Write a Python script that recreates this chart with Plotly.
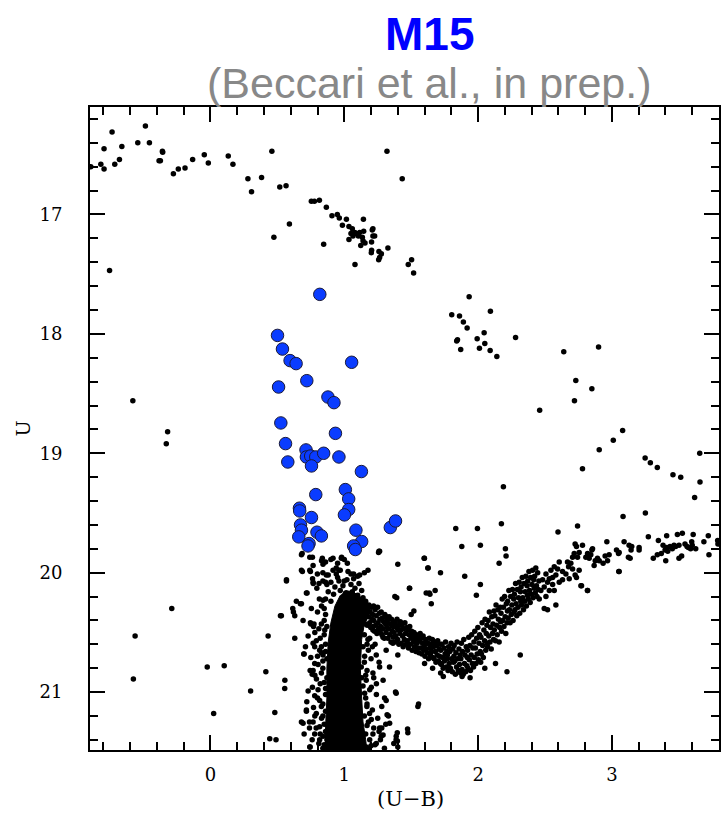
import plotly.graph_objects as go

# ---------------- data ----------------
# bright sparse stars: HB / AGB / upper RGB
bright = [(-0.894,16.60),(-0.819,16.58),(-0.795,16.62),(-0.795,16.45),(-0.735,16.31),(-0.754,17.47),
(-0.715,16.58),(-0.680,16.54),(-0.662,16.43),(-0.543,16.40),(-0.486,16.26),(-0.456,16.40),(-0.384,16.55),
(-0.374,16.55),(-0.359,16.47),(-0.357,16.48),(-0.277,16.66),(-0.240,16.62),(-0.190,16.61),(-0.133,16.54),
(-0.046,16.50),(-0.016,16.57),(0.133,16.51),(0.168,16.58),(0.280,16.70),(0.307,16.81),(0.382,16.69),
(0.459,16.47),(0.474,17.19),(0.518,16.77),(0.565,16.76),(0.590,17.08),(0.754,16.89),(0.777,16.89),
(0.814,16.88),(0.866,16.94),(0.846,17.25),(0.908,17.01),(0.948,17.00),(0.963,17.03),(1.016,17.04),
(0.986,17.09),(1.035,17.10),(1.060,17.12),(1.078,17.15),(1.050,17.16),(1.090,17.16),(1.115,17.15),
(1.145,17.14),(1.135,17.19),(1.105,17.18),(1.140,17.22),(1.065,17.18),(1.035,17.21),(1.155,17.24),
(1.123,17.26),(1.214,17.12),(1.209,17.13),(1.214,17.18),(1.204,17.23),(1.204,17.30),(1.202,17.32),
(1.227,17.18),(1.259,17.31),(1.277,17.33),(1.264,17.36),(1.257,17.38),(1.326,17.28),(1.080,17.42),
(1.319,16.47),(1.433,16.70),(1.143,17.04),(1.503,17.38),(1.478,17.42),(1.518,17.49),
(1.933,17.69),(1.803,17.84),(1.861,17.85),(1.890,17.90),(1.918,17.95),(2.092,17.81),(2.045,17.99),
(1.993,18.04),(1.840,18.06),(1.846,18.05)]

# sparse stars between the giant branches
middle = [(1.87,18.13),(2.01,18.12),(2.05,18.08),(2.09,18.14),(2.14,18.19),(2.28,18.03),(2.46,18.64),
(2.64,18.15),(2.73,18.39),(2.85,18.46),(2.90,18.11),(2.72,18.56),(3.01,18.89),(3.08,18.81),(2.905,18.97),
(2.78,19.13),(3.248,19.04),(3.287,19.08),(3.339,19.12),(3.456,19.18),(3.514,19.20),(3.656,19.00),
(3.658,19.24),(3.618,19.37),(2.189,19.28),(-0.58,18.56),(-0.32,18.82),(-0.33,18.92),
(1.833,19.63),(1.995,19.63),(2.174,19.59),(2.597,19.66),(2.743,19.61),(3.083,19.53),(3.250,19.50),
(1.878,19.78),(2.017,19.77),(2.204,19.80),(2.209,19.86),(2.157,19.92),(1.597,19.88),(1.627,19.96),
(1.719,20.00),(1.900,20.03),(1.400,19.93),(1.264,19.82),(2.017,20.10),(1.987,20.19),(1.488,20.13),
(1.635,20.17),(1.640,20.18),(1.650,20.26),(1.679,20.15),(1.378,20.20),(1.392,20.21),(1.520,20.32),
(1.500,20.35),(2.773,20.11),(2.817,20.15),(3.051,19.99),(3.725,19.85),(3.79,19.73),(2.216,20.83),
(2.315,20.69),(1.555,21.10),(1.383,21.00),(1.301,21.05),(1.473,21.31),(1.396,21.34),(1.387,21.40),
(1.397,21.41),(1.320,21.19),(1.330,21.20),(1.339,21.26),(1.28,21.30),(1.29,21.36),
(1.72,20.84),(1.74,20.87),(1.88,20.87),(1.94,20.88),(2.13,20.76),(2.05,20.80),(1.66,20.80),(1.60,20.76)]

# subgiant branch and lower red giant branch
sgb = [(1.122,20.36),(1.126,20.26),(1.131,20.41),(1.137,20.30),(1.141,20.35),(1.146,20.24),(1.150,20.39),
(1.155,20.31),(1.160,20.43),(1.163,20.27),(1.168,20.34),
(1.171,20.44),(1.175,20.30),(1.180,20.37),(1.184,20.27),(1.190,20.42),(1.193,20.33),(1.198,20.46),
(1.203,20.29),(1.207,20.39),(1.212,20.35),(1.216,20.45),(1.219,20.28),
(1.221,20.40),(1.226,20.49),(1.230,20.31),(1.235,20.44),(1.239,20.36),(1.244,20.51),(1.249,20.29),
(1.253,20.42),(1.257,20.47),(1.262,20.34),(1.266,20.39),(1.269,20.50),
(1.272,20.45),(1.276,20.33),(1.281,20.52),(1.285,20.38),(1.290,20.47),(1.294,20.41),(1.299,20.55),
(1.303,20.35),(1.308,20.43),(1.312,20.50),(1.316,20.37),(1.319,20.46),
(1.322,20.40),(1.326,20.55),(1.331,20.47),(1.335,20.37),(1.340,20.52),(1.344,20.43),(1.349,20.58),
(1.353,20.39),(1.358,20.49),(1.362,20.45),(1.366,20.54),(1.369,20.41),
(1.372,20.50),(1.376,20.58),(1.381,20.42),(1.385,20.53),(1.390,20.46),(1.394,20.39),(1.399,20.56),
(1.403,20.48),(1.408,20.60),(1.412,20.44),(1.416,20.51),(1.419,20.41),
(1.422,20.48),(1.426,20.59),(1.431,20.44),(1.435,20.53),(1.440,20.62),(1.444,20.47),(1.449,20.56),
(1.453,20.42),(1.458,20.51),(1.462,20.60),(1.467,20.46),
(1.471,20.57),(1.475,20.48),(1.480,20.63),(1.484,20.52),(1.489,20.45),(1.494,20.60),(1.498,20.55),
(1.503,20.49),(1.507,20.65),(1.512,20.53),(1.517,20.58),
(1.521,20.50),(1.525,20.62),(1.530,20.56),(1.535,20.66),(1.539,20.52),(1.544,20.59),(1.548,20.63),
(1.553,20.54),(1.558,20.67),(1.562,20.57),(1.567,20.51),
(1.571,20.63),(1.575,20.55),(1.580,20.68),(1.585,20.59),(1.589,20.53),(1.594,20.65),(1.598,20.61),
(1.603,20.70),(1.608,20.56),(1.612,20.64),(1.617,20.59),
(1.621,20.67),(1.626,20.59),(1.630,20.72),(1.635,20.55),(1.639,20.63),(1.644,20.69),(1.648,20.60),
(1.653,20.66),(1.658,20.56),(1.662,20.71),(1.667,20.62),
(1.671,20.72),(1.675,20.58),(1.680,20.66),(1.685,20.75),(1.689,20.61),(1.694,20.69),(1.698,20.57),
(1.703,20.74),(1.708,20.64),(1.712,20.70),(1.717,20.60),(1.719,20.76),
(1.721,20.65),(1.726,20.77),(1.730,20.60),(1.735,20.71),(1.739,20.80),(1.744,20.63),(1.748,20.74),
(1.753,20.68),(1.757,20.58),(1.762,20.79),(1.766,20.66),(1.769,20.72),
(1.771,20.69),(1.775,20.82),(1.780,20.62),(1.784,20.76),(1.789,20.66),(1.793,20.80),(1.798,20.59),
(1.802,20.72),(1.807,20.83),(1.811,20.64),(1.816,20.75),(1.819,20.70),
(1.821,20.61),(1.825,20.74),(1.830,20.85),(1.834,20.67),(1.839,20.79),(1.843,20.58),(1.848,20.72),
(1.852,20.82),(1.857,20.64),(1.861,20.77),(1.866,20.69),(1.869,20.84),
(1.871,20.72),(1.875,20.59),(1.880,20.81),(1.884,20.66),(1.889,20.85),(1.893,20.56),(1.898,20.76),
(1.902,20.69),(1.907,20.83),(1.911,20.62),(1.916,20.78),(1.919,20.71),
(1.921,20.65),(1.925,20.80),(1.930,20.54),(1.934,20.73),(1.939,20.61),(1.943,20.82),(1.948,20.69),
(1.952,20.52),(1.957,20.76),(1.961,20.63),(1.966,20.79),(1.969,20.58),
(1.971,20.71),(1.975,20.49),(1.980,20.63),(1.984,20.76),(1.989,20.55),(1.993,20.68),(1.998,20.46),
(2.002,20.73),(2.007,20.59),(2.011,20.52),(2.016,20.66),(2.019,20.75),
(2.021,20.54),(2.025,20.68),(2.030,20.42),(2.034,20.61),(2.039,20.71),(2.043,20.48),(2.048,20.57),
(2.052,20.39),(2.057,20.65),(2.061,20.51),(2.066,20.44),(2.069,20.59),
(2.071,20.62),(2.075,20.40),(2.080,20.53),(2.084,20.33),(2.089,20.58),(2.093,20.46),(2.098,20.64),
(2.102,20.37),(2.107,20.51),(2.111,20.43),(2.116,20.56),(2.119,20.32),
(2.121,20.48),(2.125,20.36),(2.130,20.57),(2.134,20.27),(2.139,20.44),(2.143,20.52),(2.148,20.31),
(2.152,20.39),(2.157,20.58),(2.161,20.46),(2.166,20.29),(2.169,20.41),
(2.171,20.34),(2.175,20.49),(2.180,20.22),(2.184,20.40),(2.189,20.29),(2.193,20.45),(2.198,20.20),
(2.202,20.37),(2.207,20.51),(2.211,20.26),(2.216,20.42),(2.219,20.32),
(2.221,20.24),(2.225,20.38),(2.230,20.15),(2.234,20.31),(2.239,20.42),(2.243,20.20),(2.248,20.35),
(2.252,20.27),(2.257,20.14),(2.261,20.40),(2.266,20.22),(2.269,20.33),
(2.271,20.18),(2.275,20.31),(2.280,20.09),(2.284,20.26),(2.289,20.36),(2.293,20.14),(2.298,20.29),
(2.302,20.21),(2.307,20.08),(2.311,20.34),(2.316,20.16),(2.319,20.24),
(2.321,20.12),(2.325,20.27),(2.330,20.04),(2.334,20.21),(2.339,20.31),(2.343,20.09),(2.348,20.24),
(2.352,20.16),(2.357,20.03),(2.361,20.28),(2.366,20.11),(2.369,20.19),
(2.371,20.07),(2.375,20.22),(2.380,19.99),(2.384,20.15),(2.389,20.25),(2.393,20.04),(2.398,20.18),
(2.402,20.10),(2.407,19.98),(2.411,20.21),(2.416,20.06),(2.419,20.13),
(2.422,20.03),(2.427,20.17),(2.431,19.96),(2.436,20.11),(2.440,20.20),(2.445,20.00),(2.449,20.14),
(2.454,20.07)]

# upper part of the red giant branch
rgb = [(2.962,19.74),(3.091,19.74),(3.272,19.70),(3.347,19.73),(3.409,19.69),(3.489,19.68),(3.526,19.67),
(3.607,19.68),(3.720,19.69),(3.687,19.74),(3.792,19.76),(3.382,19.77),(3.409,19.79),(3.434,19.78),
(3.464,19.77),(3.501,19.77),(3.546,19.76),(3.571,19.79),(3.600,19.77),(3.626,19.80),(3.397,19.81),
(3.369,19.84),(3.417,19.82),(3.339,19.85),(3.309,19.88),(3.402,19.90),(3.501,19.88),(3.521,19.86),
(3.596,19.74),(3.588,19.80),(3.561,19.78),(3.451,19.80),(3.476,19.78),
(3.128,19.77),(3.148,19.78),(3.143,19.81),(3.203,19.79),(3.203,19.81),(3.123,19.87),(3.136,19.88),
(3.054,19.83),(3.034,19.81),(3.049,19.84),(3.054,19.99),(2.967,19.90),(2.979,19.85),(2.949,19.86),
(2.905,19.90),(2.934,19.92),(2.875,19.90),(2.892,19.88),(2.867,19.94),(2.830,19.88),(2.842,19.85),
(2.850,19.81),(2.818,19.84),(2.805,19.87),(2.855,19.80),(2.725,19.76),(2.735,19.78),(2.780,19.77),
(2.755,19.83),(2.718,19.84),(2.706,19.87),(2.743,19.87),(2.693,19.92),(2.668,19.91),(2.676,19.95),
(2.706,19.97),(2.755,19.98),(2.725,20.02),(2.735,20.04),(2.681,20.05),(2.768,20.11),(2.818,20.15),
(2.656,20.01),(2.631,19.99),(2.606,19.91),(2.594,19.97),(2.569,19.95),(2.581,20.02),(2.544,19.98),
(2.557,20.04),(2.532,20.05),(2.507,20.01),(2.519,20.08),(2.482,20.06),(2.494,20.12),(2.469,20.15),
(2.532,20.15),(2.569,20.15),(2.507,20.20),(2.581,20.27),(2.494,20.30),(2.519,20.31),(2.457,20.22),
(2.606,20.08),(2.631,20.06),(2.557,20.10)]

# stars scattered around the main sequence and turnoff
ms = [(0.685,19.84),(0.762,19.87),(0.836,19.88),(0.916,19.88),(0.978,19.88),(1.023,19.92),(0.841,19.93),
(0.767,19.94),(0.687,19.99),(0.747,19.99),(0.799,20.01),(0.866,20.02),(0.811,20.09),(0.767,20.08),
(0.916,19.98),(0.960,19.98),(1.028,19.99),(1.070,20.01),(1.115,20.02),(1.177,19.98),(0.568,20.07),
(0.722,20.17),(0.642,20.24),(0.672,20.26),(0.62,20.33),(0.63,20.36),(0.530,20.36),(0.754,20.30),
(0.841,20.23),(0.692,20.40),(0.747,20.42),(0.774,20.43),(0.630,20.55),(0.767,20.59),(0.779,20.62),
(0.697,20.68),(0.829,20.62),(0.841,20.69),(0.804,20.77),(0.767,20.82),(0.792,20.89),(0.762,20.96),
(0.779,21.03),(0.816,21.07),(0.555,20.97),(0.717,21.16),(0.692,21.26),(0.767,21.25),(0.779,21.35),
(0.816,21.40),(0.742,21.46),(1.256,19.83),(1.487,20.13),(1.599,19.88),(1.624,19.96),(1.612,20.17),
(1.388,21.01),(1.313,21.07),(1.550,21.12),(1.475,21.34),(1.388,21.37),(1.264,21.30),(1.276,21.37),
(1.189,21.18),(1.202,20.96),(1.214,20.84),(1.264,20.79),(1.338,20.79),(1.239,20.69),(1.313,20.65),
(1.400,20.69),(1.177,20.56),(1.214,20.48),(1.264,20.47),(1.289,20.54),(1.363,20.59),(0.854,20.48),
(0.829,20.43),(0.791,20.57),(0.816,20.65),(0.779,20.76),(0.829,20.84),(0.804,20.98),(0.829,21.12),
(0.791,21.18),(0.816,21.29),(0.841,21.37),(1.164,20.90),(1.152,21.01),(1.169,21.12),(1.202,21.23),
(1.214,21.35),(1.239,21.43),(1.164,21.46),(1.127,20.79),(1.152,20.70),
(-0.563,20.53),(-0.576,20.89),(-0.289,20.30),(-0.024,20.79),(0.103,20.78),(0.024,21.18),(0.300,20.99),
(0.431,20.53),(0.414,20.83),(0.443,21.39),(0.49,21.40),(0.481,21.17),(0.556,20.90),(0.523,20.36),
(0.568,20.06),(0.615,20.30),(0.700,20.68),(0.680,19.85),(0.680,19.98),(0.742,19.98),(0.742,19.87),
(0.717,20.17),(0.680,20.26),(0.75,20.43),(0.77,20.45),(0.745,20.82),(0.76,20.85),(0.68,21.25),
(0.74,21.25),(0.745,21.46),(0.717,21.15),(0.768,20.09),(0.763,20.05),(0.83,19.90),(0.86,19.91),
(0.90,19.89),(0.95,19.92),(0.795,20.13),(0.814,20.22),(0.84,20.07),(0.86,20.08),(0.84,20.00),
(0.88,20.02),(0.94,19.96),(0.94,20.01),(0.97,19.98),(1.00,19.89),(0.98,19.87),(1.00,20.07),(1.05,20.01),
(1.10,20.03),(1.15,20.00),(1.259,19.82),(1.37,21.43),(1.40,21.46),
(0.87,20.10),(0.90,20.08),(0.93,20.12),(0.96,20.07),(0.99,20.11),(1.02,20.06),(1.05,20.10),(1.08,20.13),
(1.11,20.09),(1.13,20.15),(0.88,20.16),(0.92,20.18),(0.97,20.15),(1.01,20.17),(1.06,20.16),(1.10,20.19),
(1.14,20.21),(0.86,20.22),(0.90,20.24),(1.16,20.24),(0.95,20.04),(1.07,20.05),
(0.86,20.35),(0.85,20.52),(0.86,20.66),(0.84,20.74),(0.85,20.92),(0.86,21.02),(0.84,21.20),(0.86,21.33),
(0.85,21.44),(0.87,20.45),(0.87,20.88),(0.86,21.16),(1.15,20.52),(1.14,20.62),(1.15,20.75),(1.14,20.95),
(1.16,21.05),(1.15,21.20),(1.17,21.28),(1.19,21.40),(1.18,21.47),(1.13,20.88),(1.17,20.60),
(0.83,20.28),(0.80,20.33),(0.85,20.40),(0.78,20.50),(0.82,20.55),(0.86,20.60),(0.80,20.70),(0.84,20.80),
(0.78,20.86),(0.82,20.93),(0.86,20.97),(0.80,21.05),(0.84,21.10),(0.77,21.13),(0.83,21.22),(0.79,21.30),
(0.85,21.27),(0.81,21.43),(0.76,21.40),(0.84,21.47),(0.73,20.99),(0.72,21.08),(0.70,21.35),(0.75,20.71),
(0.73,20.53),(0.71,20.62),(0.85,20.30),(0.83,20.67),(0.87,20.72),(0.81,20.47),(0.87,21.40),(0.82,21.35),
(0.78,21.20),(0.74,21.30),
(1.18,20.65),(1.20,20.72),(1.17,20.82),(1.22,20.88),(1.19,20.98),(1.24,21.02),(1.17,21.10),(1.21,21.15),
(1.25,21.22),(1.18,21.25),(1.22,21.30),(1.27,21.40),(1.16,21.35),(1.20,21.45),(1.30,21.47),(1.23,20.60),
(1.26,20.75),(1.29,20.90),(1.28,21.12),(1.31,21.27),(1.16,20.86),(1.19,20.55),(1.21,20.62),(1.24,20.93),
(1.26,21.33),(1.23,21.44)]

# saturated main-sequence core (outline of the solid black area)
core_x = [1.01,1.06,1.11,1.16,1.18,1.15,1.13,1.12,1.13,1.14,1.16,1.17,0.86,0.86,0.87,0.87,0.88,0.90,0.93,0.97]
core_y = [20.15,20.16,20.19,20.26,20.34,20.43,20.56,20.80,21.05,21.25,21.40,21.50,21.50,21.30,21.05,20.80,20.58,20.42,20.28,20.19]

# blue stragglers
bss_x = [0.817,0.501,0.538,0.595,0.640,1.055,0.509,0.720,0.878,0.923,0.526,0.934,0.561,0.714,0.717,0.749,
         0.787,0.846,0.755,0.578,0.960,1.128,0.787,1.008,1.033,1.033,1.001,0.665,0.667,0.755,0.673,0.680,
         0.660,0.796,0.829,0.737,0.729,1.087,1.130,1.070,1.083,1.344,1.383]
bss_y = [17.669,18.013,18.127,18.224,18.249,18.238,18.445,18.392,18.529,18.576,18.746,18.833,18.919,18.972,
         19.031,19.023,19.031,19.000,19.106,19.073,19.031,19.153,19.346,19.304,19.382,19.471,19.516,19.460,
         19.483,19.538,19.600,19.644,19.700,19.661,19.692,19.756,19.776,19.644,19.739,19.776,19.806,19.622,
         19.567]

x_ticks = [0, 1, 2, 3]
y_ticks = [17, 18, 19, 20, 21]
title_text = "M15"
subtitle_text = "(Beccari et al., in prep.)"
x_label = "(U\u2212B)"
y_label = "U"

# ---------------- figure ----------------
stars = bright + middle + sgb + rgb + ms
sx = [p[0] for p in stars]
sy = [p[1] for p in stars]

fig = go.Figure()
fig.add_trace(go.Scatter(x=core_x, y=core_y, mode="lines", fill="toself", fillcolor="black",
                         line=dict(color="black", width=1), hoverinfo="skip", showlegend=False))
fig.add_trace(go.Scatter(x=sx, y=sy, mode="markers",
                         marker=dict(color="black", size=5.5, line=dict(width=0)), showlegend=False))
fig.add_trace(go.Scatter(x=bss_x, y=bss_y, mode="markers",
                         marker=dict(color="#0a3cff", size=12.5, line=dict(color="#1a1a3a", width=1)),
                         showlegend=False))

tickfont = dict(family="DejaVu Serif", size=18, color="black")
axis_common = dict(showgrid=False, zeroline=False, showline=True, linecolor="black", linewidth=2,
                   mirror="allticks", ticks="inside", ticklen=15, tickwidth=2, tickcolor="black",
                   tickfont=tickfont)

fig.update_xaxes(range=[-0.9, 3.8], tickvals=x_ticks, ticktext=[str(v) for v in x_ticks],
                 minor=dict(dtick=0.2, ticks="inside", ticklen=8, tickwidth=1.5, tickcolor="black"),
                 ticklabelstandoff=7, **axis_common)
fig.update_yaxes(range=[21.485, 16.1], tickvals=y_ticks, ticktext=[str(v) for v in y_ticks],
                 minor=dict(dtick=0.2, ticks="inside", ticklen=8, tickwidth=1.5, tickcolor="black"),
                 ticklabelstandoff=22, **axis_common)

fig.update_layout(
    width=722, height=818,
    margin=dict(l=90, r=1, t=107, b=68),
    paper_bgcolor="white", plot_bgcolor="white",
    annotations=[
        dict(text="<b>%s</b>" % title_text, x=0.539, y=1.1135, xref="paper", yref="paper",
             showarrow=False, xanchor="center", yanchor="middle",
             font=dict(family="Liberation Sans", size=46, color="#0000ff")),
        dict(text=subtitle_text, x=0.539, y=1.037, xref="paper", yref="paper",
             showarrow=False, xanchor="center", yanchor="middle",
             font=dict(family="Liberation Sans", size=43, color="#888888")),
        dict(text=x_label, x=0.51, y=-0.076, xref="paper", yref="paper", showarrow=False,
             xanchor="center", yanchor="middle", font=dict(family="DejaVu Serif", size=21, color="black")),
        dict(text=y_label, x=-0.108, y=0.5, xref="paper", yref="paper", showarrow=False,
             textangle=-90, xanchor="center", yanchor="middle",
             font=dict(family="DejaVu Serif", size=19, color="black")),
    ],
)

fig.write_html("out.html")
